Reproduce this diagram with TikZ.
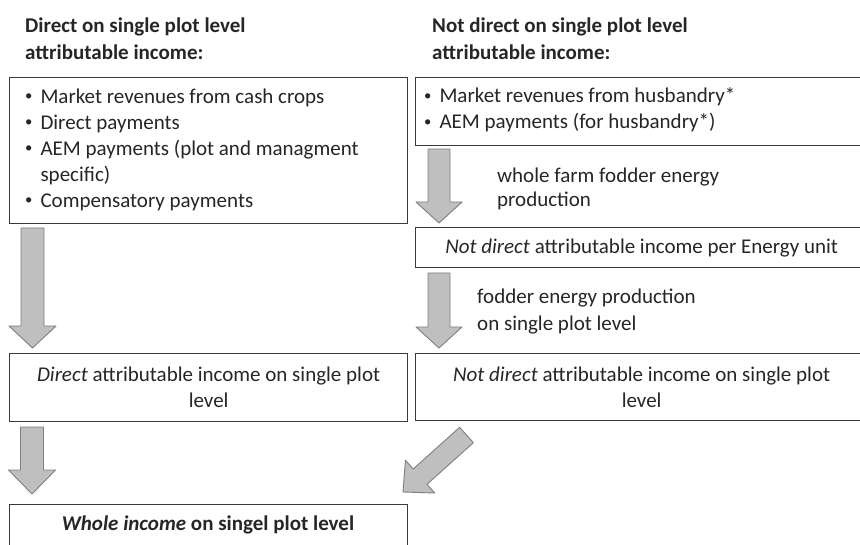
\documentclass[tikz,border=0pt]{standalone}
\usepackage{fontspec}
\setmainfont{Carlito}
\usetikzlibrary{calc}
\definecolor{boxc}{HTML}{3A3A3A}
\definecolor{txtc}{HTML}{262626}
\definecolor{arrowfill}{HTML}{BFBFBF}
\definecolor{arrowdraw}{HTML}{7F7F7F}
\newcommand\smbul{\raisebox{0.12em}{\scalebox{0.7}{•}}}
\tikzset{
  box/.style={draw=boxc, line width=1.3pt, inner sep=0pt, anchor=north west, text=txtc,
    font=\fontsize{21}{26}\selectfont, align=center},
  txt/.style={inner sep=0pt, text=txtc, font=\fontsize{21}{26}\selectfont, align=left},
  ttl/.style={inner sep=0pt, text=txtc, font=\fontsize{21}{27}\selectfont\bfseries, align=left},
  fatarrow/.style={fill=arrowfill, draw=arrowdraw, line width=0.9pt, line join=round},
}
% #1 start, #2 end, #3 half shaft width, #4 half head width, #5 head length
\newcommand\fatarr[5]{%
  \coordinate (hb) at ($(#2)!#5!(#1)$);
  \draw[fatarrow] ($(#1)!#3!90:(#2)$) -- ($(hb)!#3!90:(#2)$) -- ($(hb)!#4!90:(#2)$)
    -- (#2) -- ($(hb)!#4!-90:(#2)$) -- ($(hb)!#3!-90:(#2)$) -- ($(#1)!#3!-90:(#2)$) -- cycle;
}
\begin{document}
\begin{tikzpicture}[x=1pt,y=-1pt]
\clip (0,0) rectangle (860,545);
\fill[white] (0,0) rectangle (860,545);

% titles
\node[ttl, anchor=west] (tl) at (25,38.5) {Direct on single plot level\\attributable income:};
\node[ttl, anchor=west] (tr) at (432,38.5) {Not direct on single plot level\\attributable income:};

% boxes
\node[box, minimum width=398pt, minimum height=146pt] (b1) at (9,77) {};
\node[txt, anchor=west] (t1) at (25,150) {%
  \begin{tabular}{@{}l@{\hspace{8pt}}l@{}}
  \smbul & Market revenues from cash crops\\
  \smbul & Direct payments\\
  \smbul & AEM payments (plot and managment\\
    & specific)\\
  \smbul & Compensatory payments
  \end{tabular}};

\node[box, minimum width=452pt, minimum height=68pt] (b2) at (415,77) {};
\node[txt, anchor=west] (t2) at (424,110.5) {%
  \begin{tabular}{@{}l@{\hspace{8pt}}l@{}}
  \smbul & Market revenues from husbandry*\\
  \smbul & AEM payments (for husbandry*)
  \end{tabular}};

\node[box, minimum width=452pt, minimum height=40pt] (b3) at (415,227)
  {\textit{Not direct} attributable income per Energy unit};

\node[box, minimum width=398pt, minimum height=68pt] (b5) at (9,353)
  {\textit{Direct} attributable income on single plot\\level};
\node[box, minimum width=452pt, minimum height=67pt] (b4) at (415,353)
  {\textit{Not direct} attributable income on single plot\\level};

\node[box, minimum width=398pt, minimum height=80pt, anchor=north west] (b6) at (9,504) {};
\node[txt, anchor=center] (t6) at (208,525)
  {\bfseries\itshape Whole income\upshape{} on singel plot level};

% labels
\node[txt, anchor=west, font=\fontsize{21}{24}\selectfont] (lab1) at (497,188.5)
  {whole farm fodder energy\\production};
\node[txt, anchor=west, font=\fontsize{21}{27}\selectfont] (lab2) at (477,311.5)
  {fodder energy production\\on single plot level};

% arrows
\coordinate (a1s) at (32.5,228);  \coordinate (a1e) at (32.5,348);
\coordinate (a2s) at (32,427);    \coordinate (a2e) at (32,494);
\coordinate (a3s) at (439,149);   \coordinate (a3e) at (439,223);
\coordinate (a4s) at (439,273);   \coordinate (a4e) at (439,348);
\coordinate (a5s) at (466.5,435); \coordinate (a5e) at (403,492);
\fatarr{a1s}{a1e}{11.5pt}{23.5pt}{22pt}
\fatarr{a2s}{a2e}{11.5pt}{23.5pt}{24pt}
\fatarr{a3s}{a3e}{11pt}{23pt}{21pt}
\fatarr{a4s}{a4e}{11pt}{23pt}{21pt}
\fatarr{a5s}{a5e}{10.3pt}{22pt}{23pt}
\end{tikzpicture}
\end{document}
